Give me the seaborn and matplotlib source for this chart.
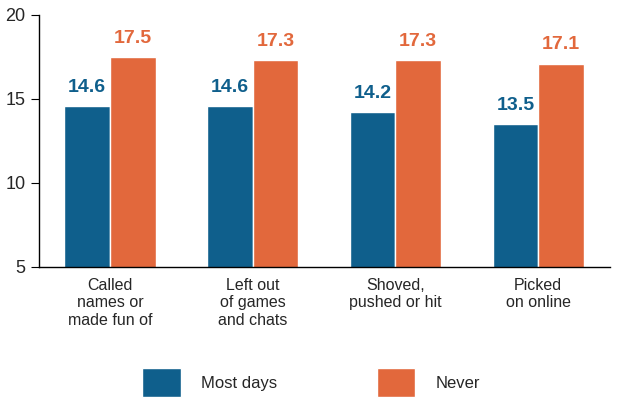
import pandas as pd
import matplotlib.pyplot as plt
import seaborn as sns
from matplotlib.patches import Patch

categories = ['Called\nnames or\nmade fun of', 'Left out\nof games\nand chats',
              'Shoved,\npushed or hit', 'Picked\non online']
most_days = [14.6, 14.6, 14.2, 13.5]
never = [17.5, 17.3, 17.3, 17.1]
series = ['Most days', 'Never']
colors = ['#0f5f8c', '#e2683c']

df = pd.DataFrame({
    'cat': categories * 2,
    'value': most_days + never,
    'series': [series[0]] * 4 + [series[1]] * 4,
})

sns.set_style('white')
plt.rcParams['font.family'] = ['Liberation Sans', 'DejaVu Sans']

fig = plt.figure(figsize=(6.22, 4.12), dpi=100)
ax = fig.add_axes([0.062, 0.352, 0.918, 0.612])
sns.barplot(data=df, x='cat', y='value', hue='series', palette=colors,
            width=0.64, saturation=1, legend=False, ax=ax)
ax.set_ylim(5, 20)
ax.set_yticks([5, 10, 15, 20])
ax.set_xlim(-0.5, 3.5)
ax.set_xlabel('')
ax.set_ylabel('')
ax.tick_params(axis='y', labelsize=13, length=6, color='black', direction='out', left=True)
ax.tick_params(axis='x', labelsize=11.5, length=0, pad=8)
for s in ['top', 'right']:
    ax.spines[s].set_visible(False)
for s in ['left', 'bottom']:
    ax.spines[s].set_color('black')
    ax.spines[s].set_linewidth(1)

for cont, col in zip(ax.containers, colors):
    for bar in cont:
        h = bar.get_height()
        ax.text(bar.get_x() + bar.get_width() / 2, h + 0.6, f'{h:.1f}',
                ha='center', va='bottom', color=col, fontsize=14, fontweight='bold')

handles = [Patch(facecolor=c) for c in colors]
fig.legend(handles, series, loc='lower center', bbox_to_anchor=(0.5, 0.0), ncol=2,
           frameon=False, fontsize=12, handlelength=2.3, handleheight=2.3,
           columnspacing=6, handletextpad=1.2)

plt.savefig('out.png', dpi=100)
